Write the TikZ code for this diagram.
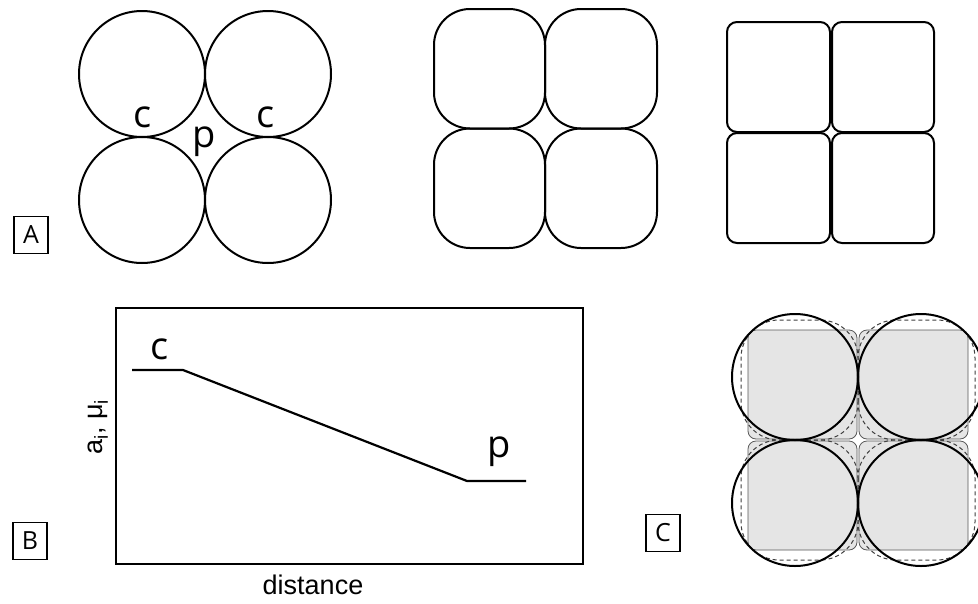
\documentclass[tikz,border=0pt]{standalone}
\usepackage{fontspec}
\setmainfont{Open Sans}
\newfontfamily\arialfont{Liberation Sans}
\begin{document}
\begin{tikzpicture}[x=1pt,y=-1pt,
  bold/.style={line width=2pt,draw=black},
  bigletter/.style={inner sep=0pt,font=\fontsize{38}{40}\selectfont},
  tag/.style={draw=black,line width=1.4pt,minimum width=34pt,minimum height=37pt,inner sep=0pt,font=\fontsize{25}{27}\selectfont},
  axislabel/.style={inner sep=0pt,font=\arialfont\fontsize{27}{30}\selectfont},
  graysq/.style={fill=black!10,draw=black!65,line width=0.8pt,rounded corners=8pt},
  dashsq/.style={draw=black!75,dashed,dash pattern=on 4pt off 3pt,line width=1pt,rounded corners=38pt},
]
\useasboundingbox (0,0) rectangle (978,603);
\clip (0,0) rectangle (978,603);
\fill[white] (0,0) rectangle (978,603);

% ---------- Panel A: circles ----------
\foreach \cx/\cy/\n in {142/74/a1,268/74/a2,142/200/a3,268/200/a4}
  \draw[bold] (\cx,\cy) circle[radius=63];
\node[bigletter] (ac1) at (143,117) {c};
\node[bigletter] (ac2) at (266,117) {c};
\node[bigletter] (ap) at (204,142) {p};
\node[tag] (tagA) at (31,235) {A};

% ---------- Panel A: rounded squares ----------
\coordinate (mc) at (545,128.5);
\draw[bold,rounded corners=36pt] (434,9) rectangle (545,128.5);
\draw[bold,rounded corners=36pt] (545,9) rectangle (657,128.5);
\draw[bold,rounded corners=36pt] (434,128.5) rectangle (545,248);
\draw[bold,rounded corners=36pt] (545,128.5) rectangle (657,248);

% ---------- Panel A: nearly square cells ----------
\draw[bold,rounded corners=10pt] (727,22) rectangle (830,132);
\draw[bold,rounded corners=10pt] (832,22) rectangle (934,132);
\draw[bold,rounded corners=10pt] (727,133) rectangle (830,243);
\draw[bold,rounded corners=10pt] (832,133) rectangle (934,243);

% ---------- Panel B: plot ----------
\draw[line width=1.8pt] (116,308) rectangle (583,564);
\coordinate (p0) at (132,370);
\coordinate (p1) at (183,370);
\coordinate (p2) at (467,481);
\coordinate (p3) at (526,481);
\draw[line width=2.2pt] (p0) -- (p1) -- (p2) -- (p3);
\node[bigletter] (bc) at (160,349) {c};
\node[bigletter] (bp) at (499,452) {p};
\node[axislabel] (xl) at (313,585) {distance};
\node[axislabel,rotate=90] (yl) at (98,427) {a\textsubscript{i}, μ\textsubscript{i}};
\node[tag] (tagB) at (30,541) {B};

% ---------- Panel C: overlay ----------
\coordinate (cc) at (858,440);
\foreach \sx in {-1,1}
  \foreach \sy in {-1,1}
    \draw[graysq] (858+\sx,440+\sy) rectangle (858+110*\sx,440+110*\sy);
\foreach \sx in {-1,1}
  \foreach \sy in {-1,1}
    \draw[dashsq] (858,440) rectangle (858+117*\sx,440+120*\sy);
\foreach \sx in {-1,1}
  \foreach \sy in {-1,1}
    \draw[bold] (858+63*\sx,440+63*\sy) circle[radius=63];
\node[tag] (tagC) at (663,533) {C};
\end{tikzpicture}
\end{document}
